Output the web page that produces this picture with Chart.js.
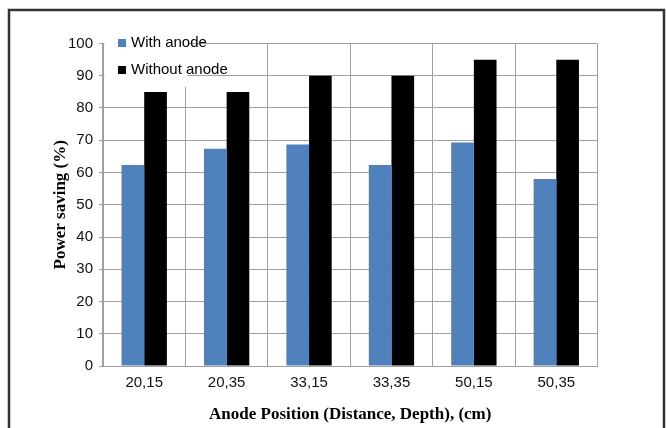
<!DOCTYPE html>
<html>
<head>
<meta charset="utf-8">
<script src="https://cdn.jsdelivr.net/npm/chart.js@4/dist/chart.umd.min.js"></script>
<style>
  html, body { margin: 0; padding: 0; background: #fff; }
  #wrap { width: 666px; height: 428px; position: relative; }
</style>
</head>
<body>
<div id="wrap"><canvas id="c" width="666" height="428"></canvas></div>
<script>
const categories = ["20,15", "20,35", "33,15", "33,35", "50,15", "50,35"];
const withAnode = [62.3, 67.4, 68.7, 62.3, 69.3, 58.0];
const withoutAnode = [85, 85, 90, 90, 95, 95];
const seriesNames = ["With anode", "Without anode"];
const yTicks = [0, 10, 20, 30, 40, 50, 60, 70, 80, 90, 100];

const tickFont = { family: "'Liberation Sans', Arial, sans-serif", size: 15 };
const titleFont = { family: "'Liberation Serif', 'Times New Roman', serif", size: 17, weight: 'bold' };

const decor = {
  id: 'decor',
  afterDraw(chart) {
    const ctx = chart.ctx;
    const ca = chart.chartArea;
    ctx.save();
    // legend background box
    ctx.fillStyle = '#fff';
    ctx.fillRect(ca.left + 1.5, 30, 83, 57);
    ctx.font = "15px 'Liberation Sans', Arial, sans-serif";
    ctx.textBaseline = 'middle';
    ctx.textAlign = 'left';
    const rows = [43, 70];
    chart.data.datasets.forEach((ds, i) => {
      ctx.fillStyle = ds.backgroundColor;
      ctx.fillRect(118, rows[i] - 4, 8, 8);
      ctx.fillStyle = '#000';
      ctx.fillText(ds.label, 131, rows[i]);
    });
    // outer frame
    ctx.strokeStyle = '#333';
    ctx.lineWidth = 2.5;
    ctx.strokeRect(9, 10, 655, 440);
    ctx.restore();
  }
};

new Chart(document.getElementById('c'), {
  type: 'bar',
  data: {
    labels: categories,
    datasets: [
      { label: seriesNames[0], data: withAnode, backgroundColor: '#4f81bd', borderWidth: 0 },
      { label: seriesNames[1], data: withoutAnode, backgroundColor: '#000000', borderWidth: 0 }
    ]
  },
  options: {
    responsive: false,
    animation: false,
    devicePixelRatio: 1,
    layout: { padding: { left: 0, right: 68.5, top: 43.5, bottom: 0 } },
    plugins: { legend: { display: false }, tooltip: { enabled: false } },
    datasets: { bar: { categoryPercentage: 0.55, barPercentage: 1.0 } },
    scales: {
      x: {
        grid: { color: '#a0a0a0', lineWidth: 1, offset: true, drawTicks: false },
        border: { color: '#a0a0a0', width: 1 },
        ticks: { font: tickFont, color: '#111', padding: 8, maxRotation: 0 },
        title: { display: true, text: 'Anode Position (Distance, Depth), (cm)', font: titleFont, color: '#000', padding: { top: 8, bottom: 3 } },
        afterFit(s) { s.height = 62; }
      },
      y: {
        min: 0, max: 100,
        afterBuildTicks(s) { s.ticks = yTicks.map(v => ({ value: v })); },
        grid: { color: '#a0a0a0', lineWidth: 1, tickLength: 4 },
        border: { color: '#a0a0a0', width: 1 },
        ticks: { font: tickFont, color: '#111', padding: 6 },
        title: { display: true, text: 'Power saving (%)', font: titleFont, color: '#000', padding: { top: 50, bottom: 0 } },
        afterFit(s) { s.width = 103; }
      }
    }
  },
  plugins: [decor]
});
</script>
</body>
</html>
